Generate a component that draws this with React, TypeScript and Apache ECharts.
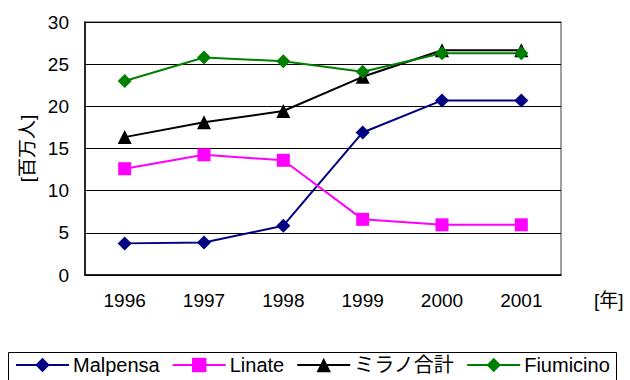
import React, { useEffect, useRef } from "react";
import * as echarts from "echarts";

const years = ["1996", "1997", "1998", "1999", "2000", "2001"];
const malpensa = [3.75, 3.85, 5.85, 16.9, 20.7, 20.7];
const linate = [12.6, 14.25, 13.6, 6.6, 5.95, 5.95];
const milanTotal = [16.35, 18.1, 19.45, 23.5, 26.65, 26.65];
const fiumicino = [23.0, 25.8, 25.35, 24.1, 26.3, 26.3];

const FONT = "'Liberation Sans', 'Noto Sans CJK JP', sans-serif";
const FS = 19;

export default function App() {
  const ref = useRef<HTMLDivElement>(null);

  useEffect(() => {
    if (!ref.current) return;
    const chart = echarts.init(ref.current, null, { renderer: "svg" });

    const mkSeries = (name: string, data: number[], color: string, symbol: string, size: number) => ({
      name,
      type: "line",
      data,
      symbol,
      symbolSize: size,
      showAllSymbol: true,
      lineStyle: { color, width: 2 },
      itemStyle: { color, borderWidth: 0 },
      emphasis: { disabled: true },
    });

    chart.setOption({
      animation: false,
      textStyle: { fontFamily: FONT },
      grid: { left: 85, top: 22, right: 69, bottom: 105, show: true, borderColor: "#808080", borderWidth: 1.5 },
      xAxis: {
        type: "category",
        data: years,
        boundaryGap: true,
        axisLine: { lineStyle: { color: "#000", width: 1.5 } },
        axisTick: { inside: true, length: 7, lineStyle: { color: "#000" } },
        axisLabel: { color: "#000", fontSize: FS, margin: 16, fontFamily: FONT },
        name: "[年]",
        nameLocation: "end",
        nameGap: 33,
        nameTextStyle: { color: "#000", fontSize: FS, fontFamily: FONT, align: "left", verticalAlign: "top", padding: [16, 0, 0, 0] },
      },
      yAxis: {
        type: "value",
        min: 0,
        max: 30,
        interval: 5,
        axisLine: { show: true, lineStyle: { color: "#000", width: 1.5 } },
        axisTick: { show: false },
        splitLine: { lineStyle: { color: "#000", width: 1 } },
        axisLabel: { color: "#000", fontSize: FS, margin: 16, fontFamily: FONT },
        name: "[百万人]",
        nameLocation: "middle",
        nameGap: 48,
        nameRotate: 90,
        nameTextStyle: { color: "#000", fontSize: FS, fontFamily: FONT },
      },
      legend: {
        left: 15,
        top: 355,
        itemWidth: 53,
        itemHeight: 18,
        itemGap: 12,
        padding: 0,
        textStyle: { color: "#000", fontSize: 20, fontFamily: FONT, padding: [0, 0, 0, -1] },
        data: ["Malpensa", "Linate", "ミラノ合計", "Fiumicino"],
      },
      graphic: [
        {
          type: "rect",
          shape: { x: 8.5, y: 352.5, width: 608, height: 40 },
          style: { fill: "none", stroke: "#000", lineWidth: 1 },
          silent: true,
        },
      ],
      series: [
        mkSeries("Malpensa", malpensa, "#000080", "diamond", 14),
        mkSeries("Linate", linate, "#FF00FF", "rect", 13),
        mkSeries("ミラノ合計", milanTotal, "#000000", "triangle", 14),
        mkSeries("Fiumicino", fiumicino, "#008000", "diamond", 14),
      ],
    });

    return () => chart.dispose();
  }, []);

  return <div ref={ref} style={{ width: 630, height: 380, position: "absolute", left: 0, top: 0 }} />;
}
